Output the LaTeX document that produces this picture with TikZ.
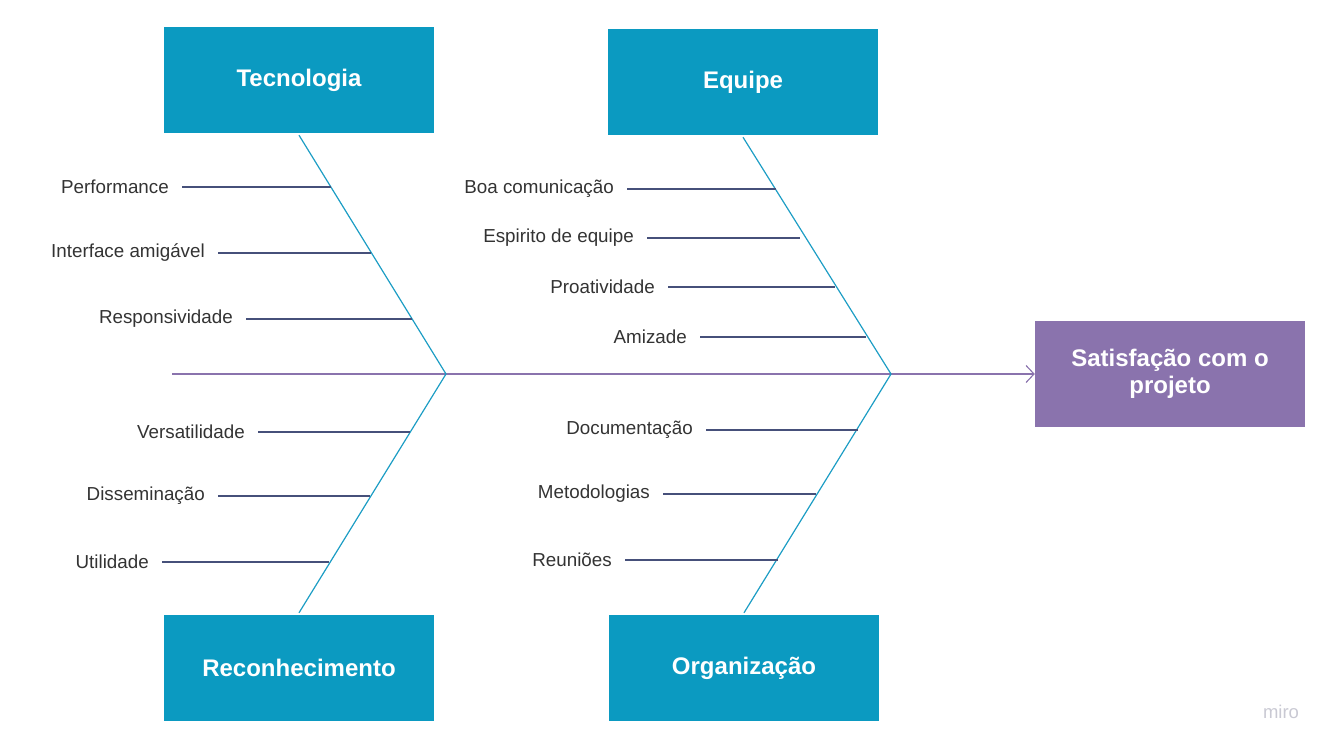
\documentclass[tikz,border=0pt]{standalone}
\usepackage{fontspec}
\setmainfont{Liberation Sans}
\usetikzlibrary{arrows.meta,positioning}
\definecolor{boxblue}{HTML}{0B9AC1}
\definecolor{effect}{HTML}{8A73AD}
\definecolor{bonecol}{HTML}{1C9DC4}
\definecolor{ribcol}{HTML}{46507A}
\definecolor{txtcol}{HTML}{333333}
\definecolor{logocol}{HTML}{C9C9D3}

\tikzset{
  catbox/.style={fill=boxblue, text=white, minimum width=270pt, minimum height=106pt,
    font=\fontsize{24}{27}\selectfont\bfseries},
  effbox/.style={catbox, fill=effect, align=center},
  cause/.style={text=txtcol, anchor=east, inner xsep=13pt,
    font=\fontsize{18.8}{22}\selectfont},
  bone/.style={draw=bonecol, line width=1.2pt},
  rib/.style={draw=ribcol, line width=1.2pt},
  spine/.style={draw=effect, line width=1.1pt}
}

\begin{document}
\begin{tikzpicture}[x=1pt, y=-1pt]
  \useasboundingbox (0,0) rectangle (1333,749);

  % categories and effect
  \node[catbox] (tec) at (299,80) {Tecnologia};
  \node[catbox] (eqp) at (743,82) {Equipe};
  \node[catbox] (rec) at (299,668) {Reconhecimento};
  \node[catbox] (org) at (744,668) {Organização};
  \node[effbox] (sat) at (1170,374) {Satisfação com o\\projeto};

  % spine
  \coordinate (tail) at (172,374);
  \coordinate (j1) at (446,374);
  \coordinate (j2) at (891,374);
  \draw[spine, -{Straight Barb[length=8pt, width=17pt]}] (tail) -- (sat.west);

  % bones
  \draw[bone] ([yshift=-2pt]tec.south) -- (j1) -- ([yshift=2pt]rec.north);
  \draw[bone] ([yshift=-2pt]eqp.south) -- (j2) -- ([yshift=2pt]org.north);

  % Tecnologia
  \node[cause] (perf) at (182,187) {Performance};
  \node[cause] (intf) at (218,253) {Interface amigável};
  \node[cause] (resp) at (246,319) {Responsividade};
  \coordinate (perf-e) at (331,187);
  \coordinate (intf-e) at (371,253);
  \coordinate (resp-e) at (412,319);
  \draw[rib] (perf) -- (perf-e);
  \draw[rib] (intf) -- (intf-e);
  \draw[rib] (resp) -- (resp-e);

  % Reconhecimento
  \node[cause] (vers) at (258,432) {Versatilidade};
  \node[cause] (diss) at (218,496) {Disseminação};
  \node[cause] (util) at (162,562) {Utilidade};
  \coordinate (vers-e) at (410,432);
  \coordinate (diss-e) at (370,496);
  \coordinate (util-e) at (329,562);
  \draw[rib] (vers) -- (vers-e);
  \draw[rib] (diss) -- (diss-e);
  \draw[rib] (util) -- (util-e);

  % Equipe
  \node[cause] (comu) at (627,189) {Boa comunicação};
  \node[cause] (espi) at (647,238) {Espirito de equipe};
  \node[cause] (proa) at (668,287) {Proatividade};
  \node[cause] (amiz) at (700,337) {Amizade};
  \coordinate (comu-e) at (776,189);
  \coordinate (espi-e) at (800,238);
  \coordinate (proa-e) at (835,287);
  \coordinate (amiz-e) at (866,337);
  \draw[rib] (comu) -- (comu-e);
  \draw[rib] (espi) -- (espi-e);
  \draw[rib] (proa) -- (proa-e);
  \draw[rib] (amiz) -- (amiz-e);

  % Organização
  \node[cause] (docu) at (706,430) {Documentação};
  \node[cause] (meto) at (663,494) {Metodologias};
  \node[cause] (reun) at (625,560) {Reuniões};
  \coordinate (docu-e) at (858,430);
  \coordinate (meto-e) at (816,494);
  \coordinate (reun-e) at (778,560);
  \draw[rib] (docu) -- (docu-e);
  \draw[rib] (meto) -- (meto-e);
  \draw[rib] (reun) -- (reun-e);

  \node[text=logocol, font=\fontsize{18.5}{20}\selectfont] (logo) at (1281,712) {miro};
\end{tikzpicture}
\end{document}
